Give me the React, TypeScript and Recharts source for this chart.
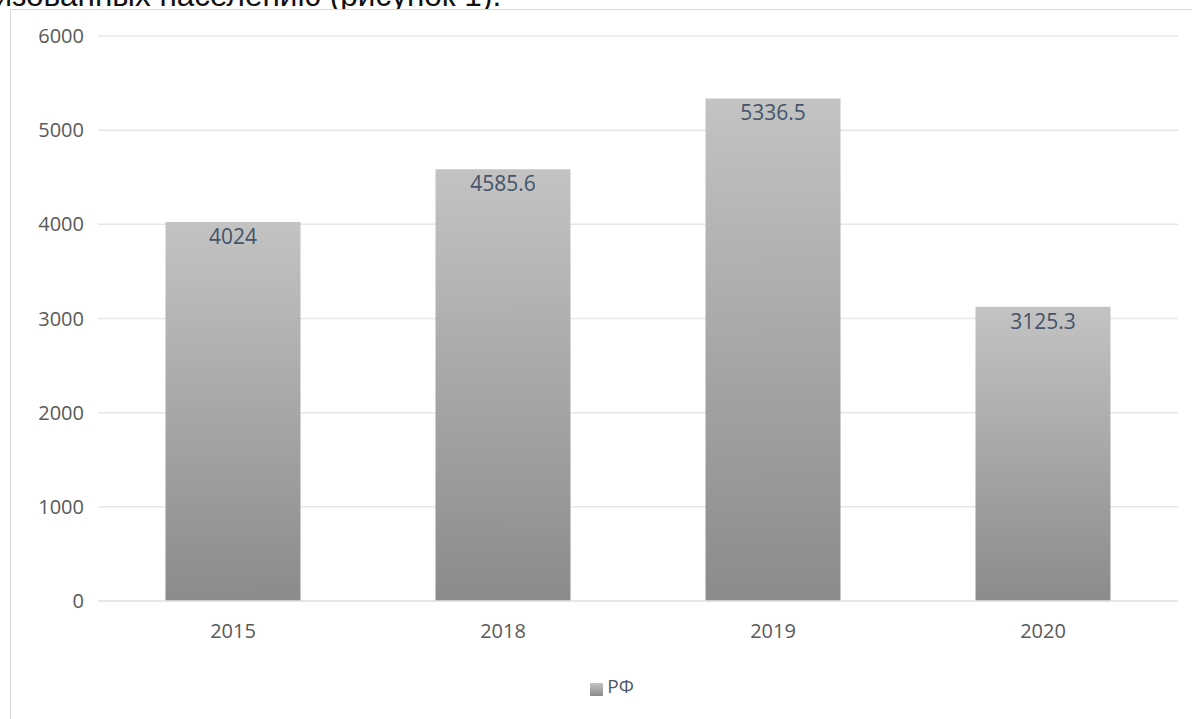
import { Bar, BarChart, CartesianGrid, LabelList, Legend, XAxis, YAxis } from 'recharts';

const years = ['2015', '2018', '2019', '2020'];
const rfValues = [4024, 4585.6, 5336.5, 3125.3];
const yTicks = [0, 1000, 2000, 3000, 4000, 5000, 6000];

const chartData = years.map((year, i) => ({ year, rf: rfValues[i] }));

const font = '"Open Sans", "Noto Sans", sans-serif';
const axisColor = '#595959';

export default function App() {
  return (
    <div style={{ position: 'absolute', left: 0, top: 0, width: 1192, height: 719, overflow: 'hidden', background: '#fff' }}>
      {/* cut-off line of the surrounding document text */}
      <div style={{ position: 'absolute', left: 0, top: 0, width: 1192, height: 10, overflow: 'hidden' }}>
        <div
          style={{
            position: 'absolute',
            left: -24,
            top: -20,
            whiteSpace: 'nowrap',
            fontFamily: '"Liberation Sans", Arial, sans-serif',
            fontSize: 31.5,
            lineHeight: '31px',
            color: '#111',
          }}
        >
          лизованных населению (рисунок 1).
        </div>
      </div>
      <div
        style={{
          position: 'absolute',
          left: 10,
          top: 9,
          width: 1200,
          height: 730,
          border: '1px solid #d9d9d9',
        }}
      />
      <div style={{ position: 'absolute', left: 0, top: 0 }}>
        <BarChart
          width={1192}
          height={719}
          data={chartData}
          margin={{ top: 36, right: 14, bottom: 58, left: 38 }}
          barCategoryGap="25%"
        >
          <defs>
            <linearGradient id="barGrey" x1="0" y1="0" x2="0" y2="1">
              <stop offset="0%" stopColor="#c3c3c3" />
              <stop offset="100%" stopColor="#8b8b8b" />
            </linearGradient>
          </defs>
          <CartesianGrid vertical={false} stroke="#e6e6ec" strokeWidth={1.5} />
          <XAxis
            dataKey="year"
            tickLine={false}
            axisLine={{ stroke: '#e3e3e8', strokeWidth: 1.5 }}
            tickMargin={17}
            tick={{ fill: axisColor, fontSize: 20, fontFamily: font }}
          />
          <YAxis
            width={60}
            domain={[0, 6000]}
            ticks={yTicks}
            axisLine={false}
            tickLine={false}
            tickMargin={8}
            tick={{ fill: axisColor, fontSize: 20, fontFamily: font }}
          />
          <Legend
            verticalAlign="bottom"
            height={30}
            iconType="square"
            iconSize={13}
            wrapperStyle={{ top: 673, left: 47 }}
            formatter={() => <span style={{ color: '#4f5868', fontSize: 19, fontFamily: font }}>РФ</span>}
          />
          <Bar dataKey="rf" name="РФ" fill="url(#barGrey)" isAnimationActive={false}>
            <LabelList
              dataKey="rf"
              position="insideTop"
              offset={7}
              fill="#44546a"
              fontSize={21}
              fontFamily={font}
            />
          </Bar>
        </BarChart>
      </div>
    </div>
  );
}
